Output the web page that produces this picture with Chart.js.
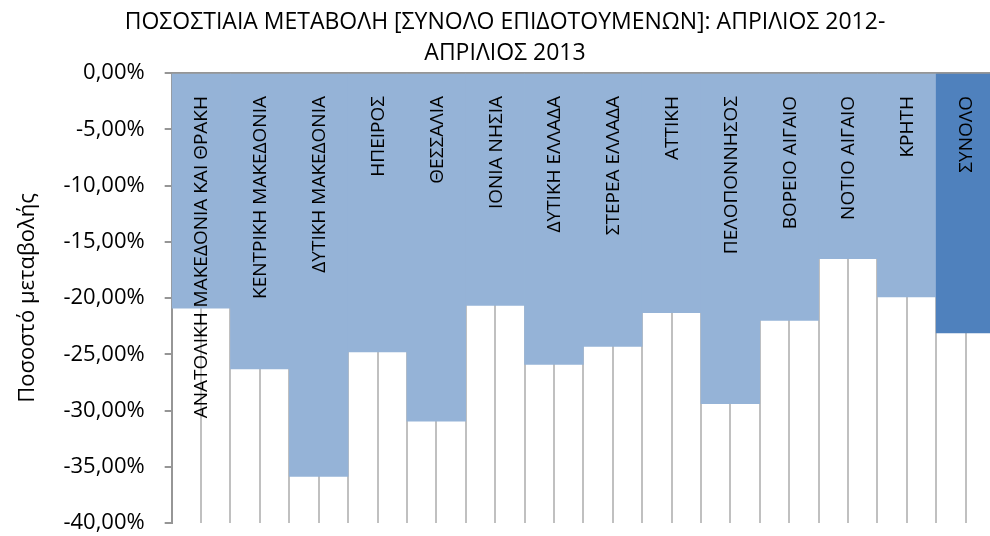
<!DOCTYPE html>
<html>
<head>
<meta charset="utf-8">
<script src="https://cdn.jsdelivr.net/npm/chart.js@4.4.0/dist/chart.umd.min.js"></script>
<style>
  html, body { margin: 0; padding: 0; background: #fff; overflow: hidden; }
  #wrap { width: 1000px; height: 536px; }
</style>
</head>
<body>
<div id="wrap"><canvas id="barChart"></canvas></div>
<script>
  'use strict'

  var regions = ['ΑΝΑΤΟΛΙΚΗ ΜΑΚΕΔΟΝΙΑ ΚΑΙ ΘΡΑΚΗ', 'ΚΕΝΤΡΙΚΗ ΜΑΚΕΔΟΝΙΑ', 'ΔΥΤΙΚΗ ΜΑΚΕΔΟΝΙΑ', 'ΗΠΕΙΡΟΣ',
    'ΘΕΣΣΑΛΙΑ', 'ΙΟΝΙΑ ΝΗΣΙΑ', 'ΔΥΤΙΚΗ ΕΛΛΑΔΑ', 'ΣΤΕΡΕΑ ΕΛΛΑΔΑ', 'ΑΤΤΙΚΗ', 'ΠΕΛΟΠΟΝΝΗΣΟΣ',
    'ΒΟΡΕΙΟ ΑΙΓΑΙΟ', 'ΝΟΤΙΟ ΑΙΓΑΙΟ', 'ΚΡΗΤΗ', 'ΣΥΝΟΛΟ'];
  var changePct = [-20.9, -26.3, -35.85, -24.8, -30.95, -20.65, -25.9, -24.3, -21.3, -29.4, -22.0, -16.5, -19.9, -23.1];
  var yTicks = [0, -5, -10, -15, -20, -25, -30, -35, -40];

  var barColors = regions.map(function (r) { return r === 'ΣΥΝΟΛΟ' ? '#4F81BD' : '#95B3D7'; });

  // category names written vertically inside the bars, hanging from the 0 line
  var insideLabels = {
    id: 'insideLabels',
    afterDatasetsDraw: function (chart) {
      var ctx = chart.ctx, xs = chart.scales.x, ys = chart.scales.y;
      var top = ys.getPixelForValue(0) + 23;
      ctx.save();
      ctx.fillStyle = '#000';
      ctx.font = '19px "Open Sans"';
      ctx.textAlign = 'right';
      ctx.textBaseline = 'middle';
      regions.forEach(function (name, i) {
        ctx.save();
        ctx.translate(xs.getPixelForValue(i) + 1, top);
        ctx.rotate(-Math.PI / 2);
        ctx.fillText(name, 0, 0);
        ctx.restore();
      });
      ctx.restore();
    }
  };

  var ctx = document.getElementById('barChart');
  var myChart = new Chart(ctx, {
    type: 'bar',
    data: {
      labels: regions,
      datasets: [{
        data: changePct,
        backgroundColor: barColors,
        borderWidth: 0,
        barPercentage: 1,
        categoryPercentage: 1
      }]
    },
    options: {
      responsive: true,
      maintainAspectRatio: false,
      animation: false,
      layout: { padding: { top: 0, right: 5, left: 15, bottom: 13 } },
      plugins: {
        legend: { display: false },
        tooltip: { enabled: false },
        title: {
          display: true,
          text: ['ΠΟΣΟΣΤΙΑΙΑ ΜΕΤΑΒΟΛΗ [ΣΥΝΟΛΟ ΕΠΙΔΟΤΟΥΜΕΝΩΝ]: ΑΠΡΙΛΙΟΣ 2012-', 'ΑΠΡΙΛΙΟΣ 2013'],
          color: '#000',
          font: { family: '"Open Sans"', size: 23, weight: 'normal', lineHeight: 1.348 },
          padding: { top: 7, bottom: 4 }
        }
      },
      scales: {
        x: {
          position: 'top',
          offset: true,
          ticks: { display: false },
          grid: { offset: true, color: '#C0C0C0', lineWidth: 2, tickLength: 0, drawTicks: false },
          border: { color: '#969696', width: 2 }
        },
        x2: {
          type: 'category',
          labels: regions,
          position: 'top',
          offset: true,
          ticks: { display: false },
          grid: { offset: false, color: '#C0C0C0', lineWidth: 2, tickLength: 0, drawTicks: false },
          border: { display: false }
        },
        y: {
          min: -40,
          max: 0,
          afterBuildTicks: function (axis) {
            axis.ticks = yTicks.map(function (v) { return { value: v }; });
          },
          afterFit: function (axis) {
            axis.paddingBottom = 0;
          },
          ticks: {
            color: '#000',
            font: { family: '"Open Sans"', size: 22 },
            padding: 20,
            callback: function (v) { return v.toFixed(2).replace('.', ',') + '%'; }
          },
          grid: { drawOnChartArea: false, color: '#969696', lineWidth: 2, tickLength: 7 },
          border: { color: '#969696', width: 2 },
          title: {
            display: true,
            text: 'Ποσοστό μεταβολής',
            color: '#000',
            font: { family: '"Open Sans"', size: 22 },
            padding: { top: 0, bottom: 2 }
          }
        }
      }
    },
    plugins: [insideLabels]
  });
</script>
</body>
</html>
